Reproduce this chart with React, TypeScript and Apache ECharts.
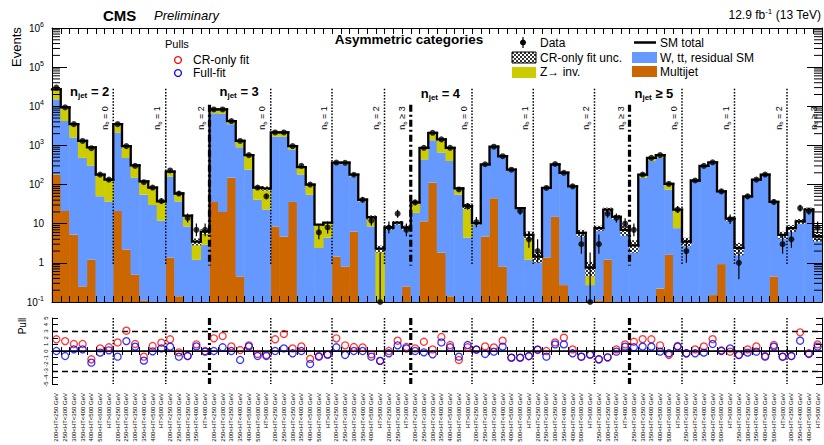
import React, { useEffect, useRef } from 'react';
import * as echarts from 'echarts';

const FONT = '"Liberation Sans", Arial, Helvetica, sans-serif';

// HT bin labels of the category groups
const htA = ['200<HT<250 GeV', '250<HT<300 GeV', '300<HT<350 GeV', '350<HT<400 GeV', '400<HT<500 GeV', '500<HT<600 GeV', 'HT>600 GeV'];
const htB = ['200<HT<250 GeV', '250<HT<300 GeV', '300<HT<350 GeV', '350<HT<400 GeV', '400<HT<500 GeV', 'HT>500 GeV'];
const htC = ['200<HT<250 GeV', '250<HT<300 GeV', '300<HT<350 GeV', '350<HT<400 GeV', 'HT>400 GeV'];
const htD = ['200<HT<250 GeV', '250<HT<300 GeV', 'HT>300 GeV'];
const htE = ['250<HT<300 GeV', '300<HT<350 GeV', '350<HT<400 GeV', 'HT>400 GeV'];
const htF = ['250<HT<300 GeV', '300<HT<350 GeV', '350<HT<400 GeV', '400<HT<500 GeV', '500<HT<600 GeV', 'HT>600 GeV'];
const htG = ['300<HT<350 GeV', '350<HT<400 GeV', '400<HT<500 GeV', 'HT>500 GeV'];

const groupNjet = ['2', '2', '2', '3', '3', '3', '3', '4', '4', '4', '4', '5', '5', '5', '5'];
const groupNb = ['= 0', '= 1', '= 2', '= 0', '= 1', '= 2', '\u2265 3', '= 0', '= 1', '= 2', '\u2265 3', '= 0', '= 1', '= 2', '\u2265 3'];
const groupHT = [htA, htB, htC, htA, htA, htB, htD, htA, htA, htA, htE, htF, htF, htF, htG];
const njetText: Record<string, string> = { '2': '= 2', '3': '= 3', '4': '= 4', '5': '\u2265 5' };

const categories: string[] = groupHT.flat();

const multijet = [
  180, 21, 5.2, 0.25, 1.2, 0, 0,
  21, 2.2, 0.5, 0.11, 0, 0,
  1.35, 0.14, 0, 0, 0,
  36, 20, 150, 0.45, 0, 0, 0,
  8.5, 4.7, 36, 0, 0, 0, 0,
  1.45, 0.8, 6.3, 0, 0, 0,
  0, 0, 0.25,
  0, 11.5, 112, 1.8, 0.14, 0, 0,
  0, 4.7, 45, 0.8, 0, 0, 0,
  0, 1.35, 15, 0.27, 0, 0, 0,
  0.11, 1.2, 0, 0,
  0, 0, 0, 0.22, 1.6, 0,
  0, 0, 0, 0.15, 0.93, 0,
  0, 0, 0, 0, 0.45, 0,
  0, 0, 0, 0,
];

const wtt = [
  14800, 4180, 1590, 480, 300, 50, 37,
  2130, 478, 150, 55, 30, 12,
  159, 37, 8.5, 1.2, 2.9,
  6560, 6380, 3350, 900, 240, 41, 23,
  1690, 1645, 754, 180, 55, 2.4, 4.4,
  338, 329, 154, 37, 8.5, 0.05,
  7.5, 10, 7.25,
  19, 428, 1238, 658, 400, 55, 4.4,
  9.5, 315, 855, 499, 230, 24, 1.2,
  1.3, 76.6, 305, 195, 85, 5, 0.27,
  6.9, 20.8, 14, 6.5,
  2.6, 150, 400, 480, 73, 7.7,
  3.3, 125, 295, 365, 64, 13,
  2.3, 49, 130, 175, 34.5, 5,
  7.5, 11, 22, 4.5,
];

const zinv = [
  12000, 5200, 1900, 820, 590, 130, 97,
  1350, 480, 160, 65, 54, 25,
  55, 22, 7.5, 2.3, 3.4,
  1700, 1900, 700, 400, 325, 43, 57,
  450, 500, 170, 100, 45, 7.1, 6.2,
  25, 35, 20, 4, 6, 2.25,
  0.5, 0.6, 0.5,
  16, 430, 750, 770, 470, 25, 23.6,
  0.9, 10, 30, 30, 10, 1, 4,
  0.15, 4, 10, 5, 5, 0.8, 0.49,
  0.7, 1, 1, 0.5,
  0.2, 30, 80, 85, 29, 15.3,
  0.2, 2, 5, 5, 2, 0.5,
  0.1, 1, 4, 5, 1, 0.2,
  0.2, 0.5, 1, 0.2,
];

const dataObs = [
  30000, 9400, 3500, 1300, 850, 180, 134,
  3500, 960, 300, 115, 84, 38,
  230, 59, 14, 7, 7,
  8300, 8300, 4200, 1300, 565, 84, 50,
  2150, 2150, 960, 300, 100, 6, 8,
  365, 360, 178, 41, 12, 0,
  8, 18, 7,
  35, 870, 2100, 1430, 870, 75, 28,
  11, 330, 930, 530, 240, 21, 4,
  2, 82, 335, 200, 90, 3, 0,
  3, 18, 14, 10,
  7, 180, 480, 565, 104, 23,
  2, 127, 300, 370, 67, 13,
  1, 50, 134, 180, 36, 3,
  4, 25, 21, 8,
];

const pullCR = [
  1.77, 1.5, 1.06, 1.06, -1.26, 0.4, 0.56,
  1.3, 3.08, 1.06, -0.86, 0.76, 1.26,
  1.77, -0.2, -0.76, 1.01, 0,
  1.92, 2.27, 0.7, 0.15, 0.86, -0.45, -0.6,
  1.77, 2.58, 0.4, 0.7, -1.2, -0.76, -0.55,
  1.92, 0.86, 0.6, 0.55, -0.5, -1.5,
  0, 1.56, 0.6,
  0.4, 1.4, 0.25, 2.12, 0.9, -1.36, 0.56,
  0.25, 0.7, 0.55, 1.56, -1.0, -1.0, -0.8,
  0.2, 0, 1.3, 2.02, 0.25, -0.86, -0.55,
  -1.26, -0.96, 0.25, 1.0,
  1.4, 1.8, 1.77, 0.86, -0.6, 0.76,
  -0.35, 0.25, 0.7, 1.8, 0.1, -0.1,
  -0.6, 0.25, 0.7, -0.76, 0.9, -0.86,
  -0.76, 2.83, -0.35, 1.0,
];

const pullFull = [
  0, -0.76, 0.25, 0.25, -1.77, -0.25, 0.1,
  -0.86, 1.5, 0.66, -1.46, -0.05, 0.4,
  0.66, -0.86, -0.76, 0.7, -0.1,
  0, 0.56, 0, -1.36, 0.7, -0.76, -0.76,
  0, 0.4, -0.35, 0, -1.97, -0.86, -0.55,
  0.56, -0.6, 0, 0, -0.86, -1.5,
  -0.35, 0.86, 0.4,
  0, -0.2, -0.5, 1.3, 0.56, -0.86, 0.9,
  0.2, -0.45, -0.1, 0.66, -1.0, -1.0, -0.76,
  0.2, -0.86, 1.0, 1.0, -0.35, -0.86, -0.55,
  -1.26, -0.96, -0.1, 0.66,
  0.56, 0.66, 0.66, -0.1, -0.35, 0.66,
  -0.35, -0.35, -0.25, 1.06, 0, 0.4,
  -0.6, -0.25, -0.1, -0.86, 0.66, -0.86,
  -0.76, 1.56, -0.45, 0.66,
];

// bins with a visible CR-only fit uncertainty band (relative half width)
const uncBins = [16, 17, 24, 36, 37, 38, 39, 40, 47, 54, 55, 60, 61, 62, 63, 64, 65, 66, 72, 77, 78, 83, 84, 85, 86, 87];
const uncRel = [0.2, 0.15, 0.12, 0.12, 0.2, 0.12, 0.1, 0.12, 0.15, 0.2, 0.3, 0.2, 0.4, 0.15, 0.12, 0.12, 0.3, 0.35, 0.25, 0.12, 0.35, 0.2, 0.2, 0.15, 0.12, 0.25];

const C_BLUE = '#6699ff';
const C_ORANGE = '#cc6600';
const C_YELLOW = '#cccc00';

const Y_MIN = 0.1;
const Y_MAX = 1e6;

function makeHatch(): any {
  try {
    const c = document.createElement('canvas');
    c.width = 4; c.height = 4;
    const ctx = c.getContext('2d')!;
    ctx.fillStyle = '#ffffff'; ctx.fillRect(0, 0, 4, 4);
    ctx.fillStyle = '#333333'; ctx.fillRect(0, 0, 2, 2); ctx.fillRect(2, 2, 2, 2);
    return { image: c.toDataURL(), repeat: 'repeat', imageWidth: 4, imageHeight: 4 };
  } catch (e) {
    return '#777777';
  }
}

function rectRenderer(fill: any) {
  return (params: any, api: any) => {
    const i = api.value(0), lo = api.value(1), hi = api.value(2);
    const pT = api.coord([i, hi]);
    const pB = api.coord([i, lo]);
    const w = api.size([1, 0])[0];
    return {
      type: 'rect', silent: true,
      shape: { x: pT[0] - w / 2 - 0.3, y: pT[1], width: w + 0.6, height: pB[1] - pT[1] },
      style: { fill },
    };
  };
}

export default function App() {
  const ref = useRef<HTMLDivElement>(null);
  useEffect(() => {
    const chart = echarts.init(ref.current!, null, { renderer: 'svg' });
    const hatch = makeHatch();
    const n = categories.length;
    const smTotal = categories.map((_, i) => multijet[i] + wtt[i] + zinv[i]);

    const mjData: number[][] = [], wData: number[][] = [], zData: number[][] = [];
    for (let i = 0; i < n; i++) {
      const s1 = multijet[i], s2 = s1 + wtt[i], s3 = s2 + zinv[i];
      if (s1 > Y_MIN) mjData.push([i, Y_MIN, s1]);
      if (s2 > Y_MIN) wData.push([i, Math.max(s1, Y_MIN), s2]);
      if (s3 > Y_MIN) zData.push([i, Math.max(s2, Y_MIN), s3]);
    }
    const uncData = uncBins.map((b, k) => [b, smTotal[b] * (1 - uncRel[k]), smTotal[b] * (1 + uncRel[k])]);
    const totData = smTotal.map((t, i) => [i, t, i > 0 ? smTotal[i - 1] : t]);
    const errData = dataObs.map((v, i) => {
      const up = v === 0 ? 1.84 : v + Math.sqrt(v + 0.25) + 0.5;
      const lo = v === 0 ? Y_MIN : Math.max(Y_MIN, v - Math.sqrt(v + 0.25) + 0.5);
      return [i, lo, up];
    });
    const ptData = dataObs.map((v, i) => [i, v > 0 ? v : Y_MIN]);

    const minorVals: number[][] = [];
    for (let e = -1; e < 6; e++) for (let m = 2; m <= 9; m++) minorVals.push([0, m * Math.pow(10, e)]);

    // group boundaries
    const starts: number[] = [];
    let acc = 0;
    groupHT.forEach((g) => { starts.push(acc); acc += g.length; });
    const upperDiv: number[][] = [], pullDiv: number[][] = [];
    for (let g = 1; g < groupHT.length; g++) {
      const thick = groupNjet[g] !== groupNjet[g - 1] ? 1 : 0;
      upperDiv.push([starts[g], thick ? 1.1e4 : 2.8e4, 0.85, thick]);
      pullDiv.push([starts[g], 5, -5, thick]);
    }
    const divRender = (params: any, api: any) => {
      const i = api.value(0), top = api.value(1), bot = api.value(2), kind = api.value(3);
      const w = api.size([1, 0])[0];
      const pT = api.coord([i, top]), pB = api.coord([i, bot]);
      const x = pT[0] - w / 2;
      return {
        type: 'line', silent: true,
        shape: { x1: x, y1: pT[1], x2: x, y2: pB[1] },
        style: kind
          ? { stroke: '#000', lineWidth: 3.2, lineDash: [7, 3, 2, 3] }
          : { stroke: '#000', lineWidth: 1.5, lineDash: [1.5, 1.6] },
      };
    };

    const catAxis = (grid: number, pos: string, len: number, labels: boolean) => ({
      type: 'category', gridIndex: grid, position: pos, data: categories, boundaryGap: true, z: 10,
      axisLine: { show: true, lineStyle: { color: '#000', width: 1 } },
      axisTick: { show: true, inside: true, length: len, interval: 0, lineStyle: { color: '#000', width: 1 } },
      axisLabel: labels
        ? { show: true, interval: 0, rotate: 90, fontSize: 6, margin: 9, color: '#000', fontFamily: FONT }
        : { show: false },
      splitLine: { show: false },
    });

    const option: any = {
      animation: false,
      backgroundColor: '#ffffff',
      textStyle: { fontFamily: FONT },
      grid: [
        { left: 52, right: 2, top: 28, height: 274 },
        { left: 52, right: 2, top: 318, height: 66 },
      ],
      xAxis: [
        catAxis(0, 'bottom', 6, false),
        catAxis(0, 'top', 6, false),
        catAxis(1, 'bottom', 4, true),
        catAxis(1, 'top', 4, false),
      ],
      yAxis: [
        {
          type: 'log', gridIndex: 0, min: Y_MIN, max: Y_MAX, logBase: 10, position: 'left', z: 10,
          axisLine: { show: true, lineStyle: { color: '#000' } },
          axisTick: { show: true, inside: true, length: 15, lineStyle: { color: '#000' } },
          splitLine: { show: false },
          axisLabel: {
            margin: 8,
            formatter: (v: number) => {
              const e = Math.round(Math.log10(v));
              if (e === 0) return '{b|1}';
              if (e === 1) return '{b|10}';
              return '{b|10}{s|' + e + '}';
            },
            rich: {
              b: { fontSize: 10, color: '#000', fontFamily: FONT },
              s: { fontSize: 7, color: '#000', fontFamily: FONT, padding: [0, 0, 8, 0] },
            },
          },
        },
        {
          type: 'log', gridIndex: 0, min: Y_MIN, max: Y_MAX, logBase: 10, position: 'right', z: 10,
          axisLine: { show: true, lineStyle: { color: '#000' } },
          axisTick: { show: true, inside: true, length: 15, lineStyle: { color: '#000' } },
          splitLine: { show: false }, axisLabel: { show: false },
        },
        {
          type: 'value', gridIndex: 1, min: -5, max: 5, interval: 1, position: 'left', z: 10,
          axisLine: { show: true, lineStyle: { color: '#000' } },
          axisTick: { show: true, inside: true, length: 6, lineStyle: { color: '#000' } },
          splitLine: { show: false },
          axisLabel: { fontSize: 6, margin: 3, rotate: 90, color: '#000', fontFamily: FONT },
        },
        {
          type: 'value', gridIndex: 1, min: -5, max: 5, interval: 1, position: 'right', z: 10,
          axisLine: { show: true, lineStyle: { color: '#000' } },
          axisTick: { show: true, inside: true, length: 6, lineStyle: { color: '#000' } },
          splitLine: { show: false }, axisLabel: { show: false },
        },
      ],
      series: [
        { name: 'Multijet', type: 'custom', xAxisIndex: 0, yAxisIndex: 0, encode: { x: 0, y: 1 }, data: mjData, renderItem: rectRenderer(C_ORANGE), z: 2 },
        { name: 'W, tt, residual SM', type: 'custom', xAxisIndex: 0, yAxisIndex: 0, encode: { x: 0, y: 1 }, data: wData, renderItem: rectRenderer(C_BLUE), z: 2 },
        { name: 'Z inv', type: 'custom', xAxisIndex: 0, yAxisIndex: 0, encode: { x: 0, y: 1 }, data: zData, renderItem: rectRenderer(C_YELLOW), z: 2 },
        { name: 'CR-only fit unc.', type: 'custom', xAxisIndex: 0, yAxisIndex: 0, encode: { x: 0, y: 1 }, data: uncData, renderItem: rectRenderer(hatch), z: 3 },
        {
          name: 'SM total', type: 'custom', xAxisIndex: 0, yAxisIndex: 0, encode: { x: 0, y: 1 }, data: totData, z: 4,
          renderItem: (params: any, api: any) => {
            const i = api.value(0), t = api.value(1), p = api.value(2);
            const c = api.coord([i, t]), cp = api.coord([i, p]);
            const w = api.size([1, 0])[0];
            const x0 = c[0] - w / 2, x1 = c[0] + w / 2;
            return {
              type: 'polyline', silent: true,
              shape: { points: [[x0, cp[1]], [x0, c[1]], [x1, c[1]]] },
              style: { stroke: '#000', lineWidth: 2.3, fill: null, lineJoin: 'miter', lineCap: 'square' },
            };
          },
        },
        {
          name: 'Data err', type: 'custom', xAxisIndex: 0, yAxisIndex: 0, encode: { x: 0, y: 1 }, data: errData, z: 5,
          renderItem: (params: any, api: any) => {
            const i = api.value(0);
            const a = api.coord([i, api.value(1)]), b = api.coord([i, api.value(2)]);
            return { type: 'line', silent: true, shape: { x1: a[0], y1: a[1], x2: b[0], y2: b[1] }, style: { stroke: '#000', lineWidth: 1.2 } };
          },
        },
        {
          name: 'Data', type: 'scatter', xAxisIndex: 0, yAxisIndex: 0, data: ptData, symbol: 'circle', symbolSize: 6,
          itemStyle: { color: '#000' }, clip: false, z: 6, silent: true,
        },
        {
          name: 'dividers', type: 'custom', xAxisIndex: 0, yAxisIndex: 0, encode: { x: 0, y: 1 }, data: upperDiv, renderItem: divRender, z: 7,
        },
        {
          name: 'minor ticks', type: 'custom', xAxisIndex: 0, yAxisIndex: 0, encode: { x: 0, y: 1 }, data: minorVals, z: 11,
          renderItem: (params: any, api: any) => {
            const y = api.coord([0, api.value(1)])[1];
            const cs = params.coordSys;
            return {
              type: 'group', silent: true,
              children: [
                { type: 'line', shape: { x1: cs.x, y1: y, x2: cs.x + 8, y2: y }, style: { stroke: '#000', lineWidth: 1 } },
                { type: 'line', shape: { x1: cs.x + cs.width - 8, y1: y, x2: cs.x + cs.width, y2: y }, style: { stroke: '#000', lineWidth: 1 } },
              ],
            };
          },
        },
        {
          name: 'pull dividers', type: 'custom', xAxisIndex: 2, yAxisIndex: 2, encode: { x: 0, y: 1 }, data: pullDiv, renderItem: divRender, z: 3,
        },
        {
          name: 'CR-only fit', type: 'scatter', xAxisIndex: 2, yAxisIndex: 2, data: pullCR.map((p, i) => [i, p]),
          symbol: 'circle', symbolSize: 7, z: 5, silent: true,
          itemStyle: { color: 'rgba(0,0,0,0)', borderColor: '#ff0000', borderWidth: 1.3 },
          markLine: {
            silent: true, symbol: 'none', label: { show: false }, animation: false,
            data: [
              { yAxis: 3, lineStyle: { color: '#000', type: [6, 4], width: 1.3 } },
              { yAxis: -3, lineStyle: { color: '#000', type: [6, 4], width: 1.3 } },
              { yAxis: 0, lineStyle: { color: '#000', type: 'solid', width: 1.5 } },
            ],
          },
        },
        {
          name: 'Full-fit', type: 'scatter', xAxisIndex: 2, yAxisIndex: 2, data: pullFull.map((p, i) => [i, p]),
          symbol: 'circle', symbolSize: 7, z: 6, silent: true,
          itemStyle: { color: 'rgba(0,0,0,0)', borderColor: '#0000ff', borderWidth: 1.3 },
        },
      ],
    };
    chart.setOption(option);

    // annotations positioned from the category axis
    const c0 = chart.convertToPixel({ xAxisIndex: 0 } as any, 0) as any as number;
    const c1 = chart.convertToPixel({ xAxisIndex: 0 } as any, 1) as any as number;
    const bw = c1 - c0;
    const edge = (i: number) => c0 - bw / 2 + bw * i;

    const txt = (x: number, y: number, text: string, extra: any = {}, style: any = {}) => ({
      type: 'text', x, y, silent: true, z: 50, ...extra,
      style: { text, fill: '#000', fontFamily: FONT, fontSize: 12, align: 'left', verticalAlign: 'middle', ...style },
    });

    const graphics: any[] = [];
    graphics.push(txt(103, 15, 'CMS', {}, { fontSize: 15, fontWeight: 'bold' }));
    graphics.push(txt(154, 15, 'Preliminary', {}, { fontSize: 13, fontStyle: 'italic' }));
    graphics.push(txt(821, 15, '12.9 fb{s|-1} (13 TeV)', {}, {
      fontSize: 12, align: 'right',
      rich: { s: { fontSize: 8, fontFamily: FONT, fill: '#000', padding: [0, 0, 7, 0] } },
    }));
    graphics.push(txt(409, 39, 'Asymmetric categories', {}, { fontSize: 13.5, fontWeight: 'bold', align: 'center' }));
    graphics.push(txt(16, 47, 'Events', { rotation: Math.PI / 2 }, { fontSize: 13, align: 'center' }));
    graphics.push(txt(22, 326, 'Pull', { rotation: Math.PI / 2 }, { fontSize: 10, align: 'center' }));

    // pulls legend
    graphics.push(txt(165, 44, 'Pulls', {}, { fontSize: 11 }));
    graphics.push({ type: 'circle', silent: true, z: 50, shape: { cx: 178, cy: 60, r: 3.4 }, style: { fill: 'none', stroke: '#ff0000', lineWidth: 1.3 } });
    graphics.push(txt(193, 60, 'CR-only fit'));
    graphics.push({ type: 'circle', silent: true, z: 50, shape: { cx: 178, cy: 73, r: 3.4 }, style: { fill: 'none', stroke: '#0000ff', lineWidth: 1.3 } });
    graphics.push(txt(193, 73, 'Full-fit'));

    // main legend
    graphics.push({ type: 'line', silent: true, z: 50, shape: { x1: 523, y1: 37, x2: 523, y2: 48 }, style: { stroke: '#000', lineWidth: 1.2 } });
    graphics.push({ type: 'circle', silent: true, z: 50, shape: { cx: 523, cy: 42.5, r: 3 }, style: { fill: '#000' } });
    graphics.push(txt(540, 43, 'Data'));
    graphics.push({ type: 'rect', silent: true, z: 50, shape: { x: 512, y: 52, width: 24, height: 11 }, style: { fill: hatch, stroke: '#000', lineWidth: 1 } });
    graphics.push(txt(540, 58, 'CR-only fit unc.'));
    graphics.push({ type: 'rect', silent: true, z: 50, shape: { x: 512, y: 67, width: 24, height: 11 }, style: { fill: C_YELLOW } });
    graphics.push(txt(540, 72, 'Z\u2192 inv.'));
    graphics.push({ type: 'line', silent: true, z: 50, shape: { x1: 634, y1: 42.5, x2: 656, y2: 42.5 }, style: { stroke: '#000', lineWidth: 2.5 } });
    graphics.push(txt(660, 43, 'SM total'));
    graphics.push({ type: 'rect', silent: true, z: 50, shape: { x: 632, y: 52, width: 25, height: 11 }, style: { fill: C_BLUE } });
    graphics.push(txt(660, 58, 'W, tt, residual SM'));
    graphics.push({ type: 'rect', silent: true, z: 50, shape: { x: 632, y: 66, width: 25, height: 11 }, style: { fill: C_ORANGE } });
    graphics.push(txt(660, 72, 'Multijet'));

    // njet labels
    const njetOffsets = [18, 10, 10, 5];
    const njetY = [91, 91, 93, 93];
    let k = 0;
    for (let g = 0; g < groupHT.length; g++) {
      if (g === 0 || groupNjet[g] !== groupNjet[g - 1]) {
        graphics.push(txt(edge(starts[g]) + njetOffsets[k], njetY[k], '{n|n}{sub|jet}{n| ' + njetText[groupNjet[g]] + '}', {}, {
          rich: {
            n: { fontSize: 13, fontWeight: 'bold', fontFamily: FONT, fill: '#000' },
            sub: { fontSize: 8, fontWeight: 'bold', fontFamily: FONT, fill: '#000', padding: [8, 0, 0, 0] },
          },
        }));
        k++;
      }
    }
    // nb labels (rotated, left of the end of each group)
    for (let g = 0; g < groupHT.length; g++) {
      const end = starts[g] + groupHT[g].length;
      graphics.push(txt(edge(end) - 8.5, 118, '{n|n}{sub|b}{n| ' + groupNb[g] + '}', { rotation: Math.PI / 2 }, {
        align: 'center',
        rich: {
          n: { fontSize: 9, fontFamily: FONT, fill: '#000' },
          sub: { fontSize: 6, fontFamily: FONT, fill: '#000', padding: [5, 0, 0, 0] },
        },
      }));
    }

    chart.setOption({ graphic: { elements: graphics } });
    return () => chart.dispose();
  }, []);
  return <div ref={ref} style={{ position: 'fixed', left: 0, top: 0, width: 824, height: 445, background: '#fff' }} />;
}
